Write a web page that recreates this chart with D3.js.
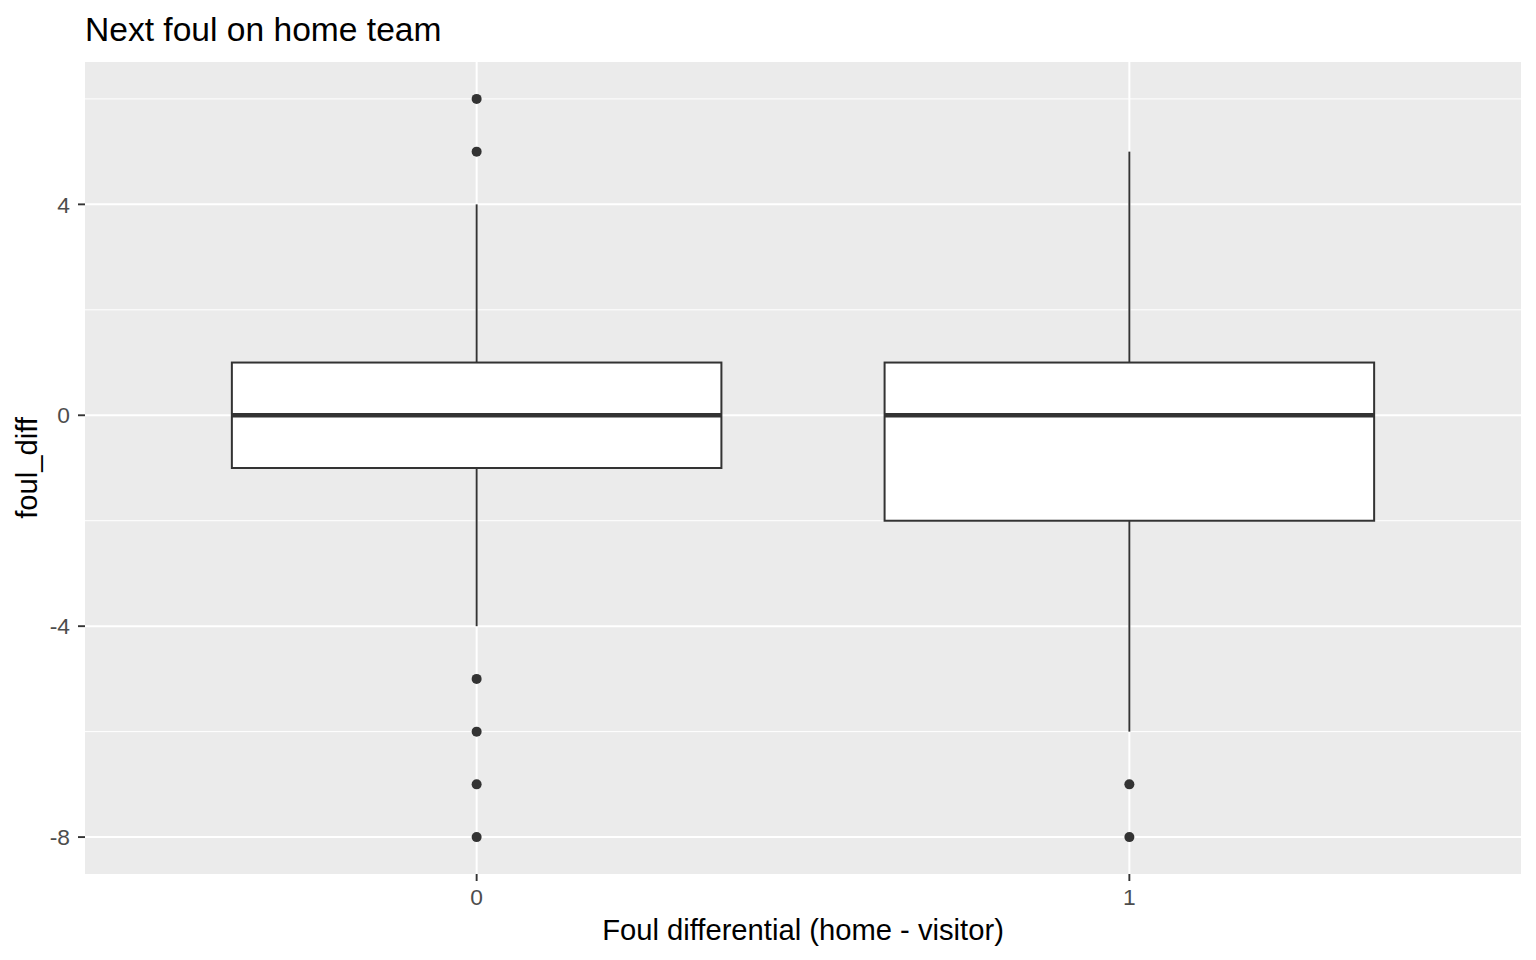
<!DOCTYPE html>
<html>
<head>
<meta charset="utf-8">
<script src="https://cdn.jsdelivr.net/npm/d3@7"></script>
<style>
  body { margin: 0; background: #fff; }
  text { font-family: "Liberation Sans", Arial, sans-serif; }
</style>
</head>
<body>
<div id="chart"></div>
<script>
// box stats
const categories = ["0", "1"];
const q1 = [-1, -2];
const medians = [0, 0];
const q3 = [1, 1];
const whiskerLow = [-4, -6];
const whiskerHigh = [4, 5];
const outliers = [[6, 5, -5, -6, -7, -8], [-7, -8]];
const yTicks = [-8, -4, 0, 4];
const yMinor = [-6, -2, 2, 6];

const w = 1536, h = 960;
const padL = 85, padR = 1521, padT = 62, padB = 874;

const svg = d3.select("#chart").append("svg")
  .attr("width", w).attr("height", h);

// ggplot discrete expansion: 0.6 units each side
const xPos = d3.scaleLinear().domain([0.4, 2.6]).range([padL, padR]);
const cx = (i) => xPos(i + 1);
const boxHalf = xPos(1.375) - xPos(1);

const yScale = d3.scaleLinear().domain([-8.7, 6.7]).range([padB, padT]);

// panel background
svg.append("rect")
  .attr("x", padL).attr("y", padT)
  .attr("width", padR - padL).attr("height", padB - padT)
  .attr("fill", "#EBEBEB");

// minor grid
svg.selectAll(".ymin").data(yMinor).enter().append("line")
  .attr("x1", padL).attr("x2", padR)
  .attr("y1", d => yScale(d)).attr("y2", d => yScale(d))
  .attr("stroke", "#fff").attr("stroke-width", 1);

// major grid
svg.selectAll(".ymaj").data(yTicks).enter().append("line")
  .attr("x1", padL).attr("x2", padR)
  .attr("y1", d => yScale(d)).attr("y2", d => yScale(d))
  .attr("stroke", "#fff").attr("stroke-width", 2);
svg.selectAll(".xmaj").data(categories).enter().append("line")
  .attr("x1", (d, i) => cx(i)).attr("x2", (d, i) => cx(i))
  .attr("y1", padT).attr("y2", padB)
  .attr("stroke", "#fff").attr("stroke-width", 2);

// boxes
const g = svg.selectAll(".box").data(categories).enter().append("g");
const ink = "#333333";

g.append("line")
  .attr("x1", (d, i) => cx(i)).attr("x2", (d, i) => cx(i))
  .attr("y1", (d, i) => yScale(whiskerHigh[i])).attr("y2", (d, i) => yScale(q3[i]))
  .attr("stroke", ink).attr("stroke-width", 1.9);
g.append("line")
  .attr("x1", (d, i) => cx(i)).attr("x2", (d, i) => cx(i))
  .attr("y1", (d, i) => yScale(q1[i])).attr("y2", (d, i) => yScale(whiskerLow[i]))
  .attr("stroke", ink).attr("stroke-width", 1.9);
g.append("rect")
  .attr("x", (d, i) => cx(i) - boxHalf)
  .attr("width", boxHalf * 2)
  .attr("y", (d, i) => yScale(q3[i]))
  .attr("height", (d, i) => yScale(q1[i]) - yScale(q3[i]))
  .attr("fill", "#fff").attr("stroke", ink).attr("stroke-width", 2);
g.append("line")
  .attr("x1", (d, i) => cx(i) - boxHalf).attr("x2", (d, i) => cx(i) + boxHalf)
  .attr("y1", (d, i) => yScale(medians[i])).attr("y2", (d, i) => yScale(medians[i]))
  .attr("stroke", ink).attr("stroke-width", 4.6);

g.each(function (d, i) {
  d3.select(this).selectAll("circle").data(outliers[i]).enter().append("circle")
    .attr("cx", cx(i)).attr("cy", v => yScale(v))
    .attr("r", 5).attr("fill", ink);
});

// y axis
const yAxis = svg.append("g").attr("id", "y-axis");
yAxis.selectAll("line").data(yTicks).enter().append("line")
  .attr("x1", padL - 7).attr("x2", padL)
  .attr("y1", d => yScale(d)).attr("y2", d => yScale(d))
  .attr("stroke", ink).attr("stroke-width", 1.9);
yAxis.selectAll("text").data(yTicks).enter().append("text")
  .attr("x", padL - 15).attr("y", d => yScale(d))
  .attr("dy", "0.36em")
  .attr("text-anchor", "end")
  .attr("font-size", 22.8).attr("fill", "#4D4D4D")
  .text(d => d);

// x axis
const xAxis = svg.append("g").attr("id", "x-axis");
xAxis.selectAll("line").data(categories).enter().append("line")
  .attr("x1", (d, i) => cx(i)).attr("x2", (d, i) => cx(i))
  .attr("y1", padB).attr("y2", padB + 7)
  .attr("stroke", ink).attr("stroke-width", 1.9);
xAxis.selectAll("text").data(categories).enter().append("text")
  .attr("x", (d, i) => cx(i)).attr("y", padB + 31)
  .attr("text-anchor", "middle")
  .attr("font-size", 22.8).attr("fill", "#4D4D4D")
  .text(d => d);

// titles
svg.append("text")
  .attr("x", (padL + padR) / 2).attr("y", 940)
  .attr("text-anchor", "middle")
  .attr("font-size", 29.2).attr("fill", "#000")
  .text("Foul differential (home - visitor)");

svg.append("text")
  .attr("transform", `translate(37,${(padT + padB) / 2}) rotate(-90)`)
  .attr("text-anchor", "middle")
  .attr("font-size", 29.2).attr("fill", "#000")
  .text("foul_diff");

svg.append("text")
  .attr("x", padL).attr("y", 41)
  .attr("font-size", 33.6).attr("fill", "#000")
  .text("Next foul on home team");
</script>
</body>
</html>
